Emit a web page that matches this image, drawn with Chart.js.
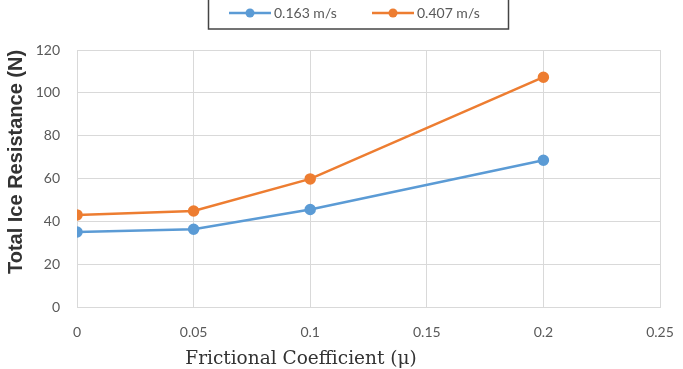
<!DOCTYPE html>
<html>
<head>
<meta charset="utf-8">
<script src="https://cdn.jsdelivr.net/npm/chart.js@4"></script>
<style>
  html, body { margin: 0; padding: 0; background: #fff; }
  #wrap { width: 683px; height: 369px; }
</style>
</head>
<body>
<div id="wrap"><canvas id="iceChart" width="683" height="369"></canvas></div>
<script>
// data
const frictionCoeffs = [0, 0.05, 0.1, 0.2];
const seriesNames = ['0.163 m/s', '0.407 m/s'];
const slowSpeed = [35, 36.3, 45.5, 68.5];
const fastSpeed = [43, 44.8, 59.8, 107.3];
const xTickValues = [0, 0.05, 0.1, 0.15, 0.2, 0.25];
const yTickValues = [0, 20, 40, 60, 80, 100, 120];
const xTitle = 'Frictional Coefficient (\u03bc)';
const yTitle = 'Total Ice Resistance (N)';

const BLUE = '#5B9BD5';
const ORANGE = '#ED7D31';

const toPoints = (vals) => vals.map((v, i) => ({ x: frictionCoeffs[i], y: v }));

// legend box + axis titles, drawn by hand so they sit where the original has them
const extras = {
  id: 'extras',
  afterDraw(chart) {
    const ctx = chart.ctx;
    ctx.save();

    // legend frame
    ctx.strokeStyle = '#444';
    ctx.lineWidth = 1.5;
    ctx.strokeRect(208.5, -2, 300, 31);

    const items = [
      { x: 229, color: BLUE },
      { x: 372, color: ORANGE },
    ];
    ctx.font = '14px Lato';
    ctx.textBaseline = 'middle';
    chart.data.datasets.forEach((ds, i) => {
      const it = items[i];
      ctx.strokeStyle = ds.borderColor;
      ctx.lineWidth = 2.5;
      ctx.beginPath();
      ctx.moveTo(it.x, 13);
      ctx.lineTo(it.x + 42, 13);
      ctx.stroke();
      ctx.fillStyle = ds.borderColor;
      ctx.beginPath();
      ctx.arc(it.x + 21, 13, 4.5, 0, Math.PI * 2);
      ctx.fill();
      ctx.fillStyle = '#595959';
      ctx.fillText(ds.label, it.x + 45, 13);
    });

    // x title
    ctx.fillStyle = '#333';
    ctx.font = '18.5px "DejaVu Serif"';
    ctx.textAlign = 'center';
    ctx.textBaseline = 'middle';
    ctx.fillText(xTitle, 301, 359);

    // y title
    ctx.translate(16, 162);
    ctx.rotate(-Math.PI / 2);
    ctx.font = 'bold 20px "Liberation Sans"';
    ctx.fillText(yTitle, 0, 0);

    ctx.restore();
  }
};

new Chart(document.getElementById('iceChart'), {
  type: 'line',
  data: {
    datasets: [
      {
        label: seriesNames[0],
        data: toPoints(slowSpeed),
        borderColor: BLUE,
        backgroundColor: BLUE,
        borderWidth: 2.5,
        pointRadius: 4.5,
        pointHoverRadius: 4.5,
      },
      {
        label: seriesNames[1],
        data: toPoints(fastSpeed),
        borderColor: ORANGE,
        backgroundColor: ORANGE,
        borderWidth: 2.5,
        pointRadius: 4.5,
        pointHoverRadius: 4.5,
      },
    ],
  },
  options: {
    responsive: false,
    animation: false,
    layout: {
      padding: { top: 50, right: 23, left: 0, bottom: 0 },
    },
    plugins: {
      legend: { display: false },
      tooltip: { enabled: false },
    },
    scales: {
      x: {
        type: 'linear',
        min: 0,
        max: 0.25,
        afterBuildTicks: (s) => { s.ticks = xTickValues.map(v => ({ value: v })); },
        afterFit: (s) => { s.height = 62; s.paddingLeft = 0; s.paddingRight = 0; },
        grid: { color: '#d9d9d9', drawTicks: false },
        border: { color: '#d9d9d9' },
        ticks: {
          padding: 17,
          color: '#595959',
          font: { family: 'Lato', size: 14 },
          callback: (v) => String(+v.toFixed(2)),
        },
      },
      y: {
        min: 0,
        max: 120,
        afterBuildTicks: (s) => { s.ticks = yTickValues.map(v => ({ value: v })); },
        afterFit: (s) => { s.width = 77; },
        grid: { color: '#d9d9d9', drawTicks: false },
        border: { color: '#d9d9d9' },
        ticks: {
          padding: 17,
          color: '#595959',
          font: { family: 'Lato', size: 14 },
        },
      },
    },
  },
  plugins: [extras],
});
</script>
</body>
</html>
